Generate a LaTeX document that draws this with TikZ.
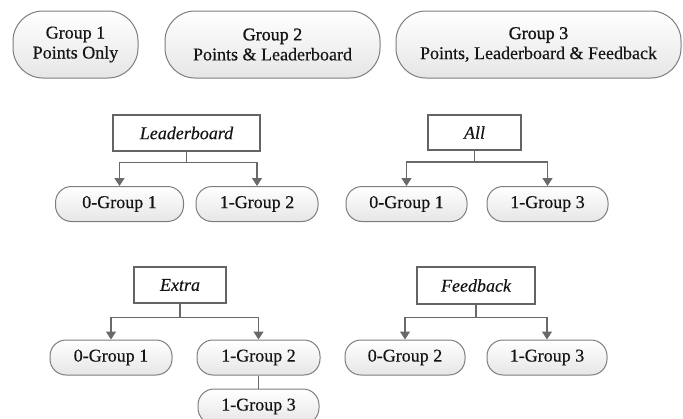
\documentclass[tikz,border=0pt]{standalone}
\usepackage{fontspec}
\setmainfont[FakeBold=0.35]{Liberation Serif}
\newfontfamily\heavyfont[FakeBold=1.1]{Liberation Serif}
\usetikzlibrary{arrows.meta}
\definecolor{linegray}{RGB}{105,105,105}
\definecolor{pillborder}{RGB}{125,125,125}
\definecolor{boxborder}{RGB}{100,100,100}
\definecolor{pillbottom}{RGB}{230,230,230}
\definecolor{textdark}{RGB}{20,20,20}
\tikzset{
  pill/.style={draw=pillborder, line width=1pt, top color=white, bottom color=pillbottom,
    rounded corners=16pt, minimum height=35pt, inner sep=0pt, text=textdark,
    font=\fontsize{18}{20}\selectfont},
  bigpill/.style={pill, rounded corners=30pt, minimum height=67pt, align=center},
  labelbox/.style={draw=boxborder, line width=1.2pt, fill=white, inner sep=0pt,
    text=textdark, font=\fontsize{18}{20}\selectfont\itshape},
  conn/.style={draw=linegray, line width=1.4pt},
  arr/.style={conn, -{Triangle[length=8pt,width=10pt]}}
}
\begin{document}
\begin{tikzpicture}[x=1pt,y=-1pt]
\useasboundingbox (0,0) rectangle (683,418);
\clip (0,0) rectangle (683,418);
% top groups
\node[bigpill, minimum width=125pt] (g1) at (75.5,44.5) {Group 1\\Points Only};
\node[bigpill, minimum width=215pt] (g2) at (272.5,44.5) {{\heavyfont Group 2}\\Points \& Leaderboard};
\node[bigpill, minimum width=285pt] (g3) at (538.5,44.5) {{\heavyfont Group 3}\\Points, Leaderboard \& Feedback};
% Leaderboard tree
\node[labelbox, minimum width=147pt, minimum height=36pt] (lb) at (186.5,133) {Leaderboard};
\node[pill, minimum width=128pt] (lb0) at (119.5,204) {0-Group 1};
\node[pill, minimum width=122pt] (lb1) at (257,204) {1-Group 2};
\draw[arr] (lb.south) -- ++(0,11) -| (lb0.north);
\draw[arr] (lb.south) -- ++(0,11) -| (lb1.north);
% All tree
\node[labelbox, minimum width=93pt, minimum height=35pt] (al) at (474.5,132.5) {All};
\node[pill, minimum width=121pt] (al0) at (406.5,204) {0-Group 1};
\node[pill, minimum width=121pt] (al1) at (547.5,204) {1-Group 3};
\draw[arr] (al.south) -- ++(0,11.5) -| (al0.north);
\draw[arr] (al.south) -- ++(0,11.5) -| (al1.north);
% Extra tree
\node[labelbox, minimum width=92pt, minimum height=36pt] (ex) at (180,285) {Extra};
\node[pill, minimum width=122pt] (ex0) at (111,357.5) {0-Group 1};
\node[pill, minimum width=123pt] (ex1) at (258.5,357.5) {1-Group 2};
\node[pill, minimum width=121pt] (ex2) at (258.5,406.5) {1-Group 3};
\draw[arr] (ex.south) -- ++(0,14) -| (ex0.north);
\draw[arr] (ex.south) -- ++(0,14) -| (ex1.north);
\draw[conn] (ex1.south) -- (ex2.north);
% Feedback tree
\node[labelbox, minimum width=118pt, minimum height=37pt] (fb) at (476,285.5) {Feedback};
\node[pill, minimum width=120pt] (fb0) at (405,357.5) {0-Group 2};
\node[pill, minimum width=120pt] (fb1) at (547,357.5) {1-Group 3};
\draw[arr] (fb.south) -- ++(0,13) -| (fb0.north);
\draw[arr] (fb.south) -- ++(0,13) -| (fb1.north);
\end{tikzpicture}
\end{document}
